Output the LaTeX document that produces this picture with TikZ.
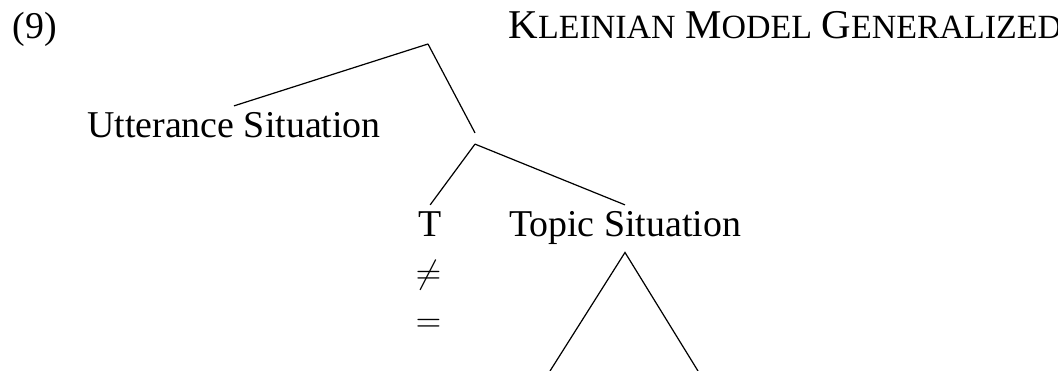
\documentclass[tikz,border=0pt]{standalone}
\usepackage{fontspec}
\setmainfont{Liberation Serif}
\usepackage{tikz}
\newcommand{\capbig}[1]{{\fontsize{13.5}{15}\selectfont #1}}
\newcommand{\caplow}[1]{{\fontsize{11.2}{13}\selectfont #1}}

\begin{document}
\begin{tikzpicture}[x=0.33pt, y=-0.33pt, font=\fontsize{12.5}{15}\selectfont,
  leaf/.style={inner sep=0pt, inner ysep=2.2pt, text height=8.2pt, text depth=2.7pt},
  plain/.style={inner sep=0pt},
  rel/.style={inner sep=0pt, font=\fontsize{11}{13}\selectfont}]
  \useasboundingbox (0,0) rectangle (1058,371);
  \node[plain, anchor=base west] (num) at (12,39) {(9)};
  \node[plain, anchor=base west] (title) at (508,39)
    {\capbig{K}\caplow{LEINIAN} \capbig{M}\caplow{ODEL} \capbig{G}\caplow{ENERALIZED}};
  \coordinate (root) at (428,44);
  \node[leaf, anchor=base] (utt) at (234,138) {Utterance Situation};
  \node[plain, minimum height=3.3pt] (inner) at (475,138.5) {};
  \node[leaf, anchor=base west] (T) at (418,237) {T};
  \node[leaf, anchor=base] (topic) at (625,237) {Topic Situation};
  \node[rel, anchor=base west] (neq) at (415,284) {$\neq$};
  \node[rel, anchor=base west] (eq) at (415,332) {$=$};
  \coordinate (tl) at (550,371);
  \coordinate (tr) at (698,371);
  \draw (root) -- (utt.north);
  \draw (root) -- (inner.north);
  \draw (inner.south) -- (T.north);
  \draw (inner.south) -- (topic.north);
  \draw (tl) -- (topic.south) -- (tr);
\end{tikzpicture}
\end{document}
